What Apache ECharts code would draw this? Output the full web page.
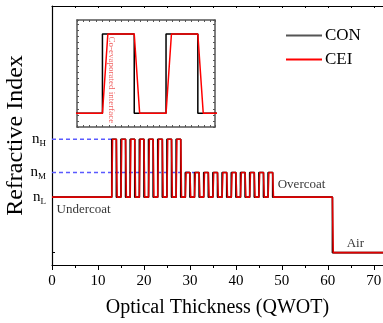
<!DOCTYPE html>
<html><head><meta charset="utf-8">
<script src="https://cdn.jsdelivr.net/npm/echarts@6/dist/echarts.min.js"></script>
<style>html,body{margin:0;padding:0;background:#fff}#c{width:383px;height:323px}</style>
</head><body><div id="c"></div>
<script>
// Refractive index levels
const nAir = 1.0, nL = 1.45, nM = 1.65, nH = 1.92;
// Layer stack (code per layer) and its optical thickness in QWOT
const stackCodes = ['L','H','L','H','L','H','L','H','L','H','L','H','L','H','L','H','L',
  'M','L','M','L','M','L','M','L','M','L','M','L','M','L','M','L','M','L','M','L','A'];
const stackQWOT = [13,1,1,1,1,1,1,1,1,1,1,1,1,1,1,1,1,
  1,1,1,1,1,1,1,1,1,1,1,1,1,1,1,1,1,1,1,13,11];
const interfaceWidth = 0.17; // co-evaporated interface width (QWOT)
const xTicks = [0,10,20,30,40,50,60,70];
const dashHx = [0, 13];
const dashMx = [0, 31];
const textLabels = [
  {name:'Undercoat', x:1.0, y:1.346},
  {name:'Overcoat', x:49.1, y:1.549},
  {name:'Air', x:64.1, y:1.07}
];
const levelLabels = [{v:nL, s:'L'}, {v:nM, s:'M'}, {v:nH, s:'H'}];

const codeN = {L:nL, M:nM, H:nH, A:nAir};
const CON = [], CEI = [];
let x = 0;
for (let i = 0; i < stackCodes.length; i++) {
  const n = codeN[stackCodes[i]];
  if (i === 0) { CON.push([x, n]); CEI.push([x, n]); }
  else {
    const prev = codeN[stackCodes[i-1]];
    CON.push([x, prev]); CON.push([x, n]);
    CEI.push([x, prev]); CEI.push([x + interfaceWidth, n]);
  }
  x += stackQWOT[i];
}
CON.push([x, codeN['A']]); CEI.push([x, codeN['A']]);

const serif = 'Liberation Serif, Times New Roman, serif';
const chart = echarts.init(document.getElementById('c'), null, {renderer:'canvas'});
const inset = {min:12.2, max:16.54, ymin:1.368, ymax:2.003};
const option = {
  backgroundColor:'#fff',
  animation:false,
  grid:[
    {left:52, right:0, top:6, bottom:58, outerBoundsMode:'none', containLabel:false},
    {left:77, top:20, width:138, height:107, outerBoundsMode:'none', containLabel:false}
  ],
  legend:{
    orient:'vertical', left:286, top:27, padding:0, itemWidth:36, itemHeight:2, itemGap:7, icon:'rect',
    textStyle:{fontFamily:serif, fontSize:17, color:'#000', lineHeight:17, padding:[0,0,0,-2]},
    data:['CON','CEI']
  },
  xAxis:[
    {gridIndex:0, type:'value', min:0, max:72, interval:10, position:'bottom',
      axisLine:{lineStyle:{color:'#000', width:1.2}},
      axisTick:{inside:false, length:5, lineStyle:{color:'#000'}},
      minorTick:{show:true, splitNumber:2, length:3, lineStyle:{color:'#000'}},
      splitLine:{show:false},
      axisLabel:{fontFamily:serif, fontSize:15, color:'#000', margin:9,
        customValues: xTicks},
      name:'Optical Thickness (QWOT)', nameLocation:'middle', nameGap:33, nameMoveOverlap:false,
      nameTextStyle:{fontFamily:serif, fontSize:20, color:'#000'}
    },
    {gridIndex:0, type:'value', min:0, max:72, interval:5, position:'top',
      axisLine:{lineStyle:{color:'#000', width:1.2}},
      axisTick:{inside:true, length:2, lineStyle:{color:'#000'}},
      axisLabel:{show:false}, splitLine:{show:false}},
    {gridIndex:1, type:'value', min:inset.min, max:inset.max, interval:0.2, position:'bottom',
      axisLine:{lineStyle:{color:'#555', width:1.5}},
      axisTick:{inside:true, length:2, lineStyle:{color:'#555'}},
      axisLabel:{show:false}, splitLine:{show:false}},
    {gridIndex:1, type:'value', min:inset.min, max:inset.max, interval:0.2, position:'top',
      axisLine:{lineStyle:{color:'#555', width:1.5}},
      axisTick:{inside:true, length:2, lineStyle:{color:'#555'}},
      axisLabel:{show:false}, splitLine:{show:false}}
  ],
  yAxis:[
    {gridIndex:0, type:'value', min:0.9, max:3.0, position:'left',
      axisLine:{show:true, lineStyle:{color:'#000', width:1.2}},
      axisTick:{show:true, inside:true, length:3, customValues:[1.0], lineStyle:{color:'#000'}},
      splitLine:{show:false},
      axisLabel:{show:true, margin:6, customValues: levelLabels.map(d=>d.v),
        formatter: v => { const d = levelLabels.find(e=>Math.abs(e.v-v)<1e-6); return '{n|n}{s|' + (d?d.s:'') + '}'; },
        rich:{n:{fontFamily:serif, fontSize:15, color:'#000'},
              s:{fontFamily:serif, fontSize:9, color:'#000', padding:[9,0,0,0]}}},
      name:'Refractive Index', nameLocation:'middle', nameGap:24, nameMoveOverlap:false,
      nameTextStyle:{fontFamily:serif, fontSize:24, color:'#000'}
    },
    {gridIndex:1, type:'value', min:inset.ymin, max:inset.ymax, interval:0.036, position:'left',
      axisLine:{show:true, lineStyle:{color:'#555', width:1.5}},
      axisTick:{show:true, inside:true, length:2, lineStyle:{color:'#555'}},
      axisLabel:{show:false}, splitLine:{show:false}},
    {gridIndex:1, type:'value', min:inset.ymin, max:inset.ymax, interval:0.036, position:'right',
      axisLine:{show:true, lineStyle:{color:'#555', width:1.5}},
      axisTick:{show:true, inside:true, length:2, lineStyle:{color:'#555'}},
      axisLabel:{show:false}, splitLine:{show:false}}
  ],
  series:[
    {name:'nHdash', type:'line', xAxisIndex:0, yAxisIndex:0, symbol:'none', silent:true,
      data: dashHx.map(v=>[v, nH]), lineStyle:{color:'#5a5aff', width:1.6, type:[4,3]}},
    {name:'nMdash', type:'line', xAxisIndex:0, yAxisIndex:0, symbol:'none', silent:true,
      data: dashMx.map(v=>[v, nM]), lineStyle:{color:'#5a5aff', width:1.6, type:[4,3]}},
    {name:'CON', type:'line', xAxisIndex:0, yAxisIndex:0, symbol:'none', data:CON,
      lineStyle:{color:'#000', width:1.6}, itemStyle:{color:'#555'}},
    {name:'CEI', type:'line', xAxisIndex:0, yAxisIndex:0, symbol:'none', data:CEI,
      lineStyle:{color:'#e00000', width:1.6}, itemStyle:{color:'#ff0000'}},
    {name:'CON', type:'line', xAxisIndex:2, yAxisIndex:1, symbol:'none', data:CON,
      lineStyle:{color:'#000', width:1.5}, clip:true},
    {name:'CEI', type:'line', xAxisIndex:2, yAxisIndex:1, symbol:'none', data:CEI,
      lineStyle:{color:'#ff0000', width:1.5}, clip:true},
    {name:'labels', type:'scatter', xAxisIndex:0, yAxisIndex:0, symbolSize:0, silent:true,
      data: textLabels.map(d=>({value:[d.x, d.y], name:d.name})),
      label:{show:true, position:'right', distance:0, formatter:p=>p.name,
        fontFamily:serif, fontSize:13, color:'#000'}}
  ]
};
chart.setOption(option);
const p = chart.convertToPixel({gridIndex:1}, [13.28, 1.905]);
chart.setOption({graphic:[{type:'text', x:p[0], y:p[1], rotation:-Math.PI/2,
  style:{text:'Co-evaporated interface', fontFamily:serif, fontSize:9, fill:'#f06060', align:'left', verticalAlign:'middle'}}]});
</script></body></html>
